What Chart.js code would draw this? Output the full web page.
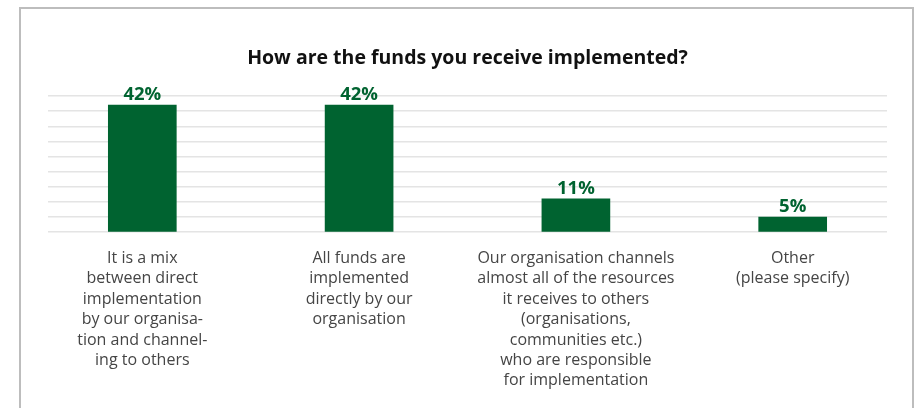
<!DOCTYPE html>
<html>
<head>
<meta charset="utf-8">
<script src="https://cdn.jsdelivr.net/npm/chart.js@4.4.1/dist/chart.umd.min.js"></script>
<style>
  html, body { margin: 0; padding: 0; background: #fff; }
  #wrap { position: relative; width: 917px; height: 408px; overflow: hidden; }
  #box { position: absolute; left: 19px; top: 7px; width: 895px; height: 420px;
         border: 2px solid #bdbdbd; border-bottom: none; box-sizing: border-box; }
  canvas { position: absolute; left: 0; top: 0; }
</style>
</head>
<body>
<div id="wrap">
  <div id="box"></div>
  <canvas id="c" width="917" height="408"></canvas>
</div>
<script>
const titleText = "How are the funds you receive implemented?";
const categories = [
  ["It is a mix", "between direct", "implementation", "by our organisa-", "tion and channel-", "ing to others"],
  ["All funds are", "implemented", "directly by our", "organisation"],
  ["Our organisation channels", "almost all of the resources", "it receives to others", "(organisations,", "communities etc.)", "who are responsible", "for implementation"],
  ["Other", "(please specify)"]
];
const values = [42, 42, 11, 5];
const yTicks = [0, 5, 10, 15, 20, 25, 30, 35, 40, 45];

const GREEN = "#006330";
const FONT = "'Open Sans', 'Noto Sans', sans-serif";

const valueLabels = {
  id: "valueLabels",
  afterDatasetsDraw(chart) {
    const ctx = chart.ctx;
    const meta = chart.getDatasetMeta(0);
    ctx.save();
    ctx.fillStyle = GREEN;
    ctx.font = "bold 18.5px " + FONT;
    ctx.textAlign = "center";
    ctx.textBaseline = "alphabetic";
    meta.data.forEach((bar, i) => {
      ctx.fillText(values[i] + "%", bar.x, bar.y - 5);
    });
    ctx.restore();
  }
};

new Chart(document.getElementById("c"), {
  type: "bar",
  data: {
    datasets: [{
      data: values.map((v, i) => ({ x: i, y: v })),
      backgroundColor: GREEN,
      borderWidth: 0,
      barThickness: 68
    }]
  },
  options: {
    responsive: false,
    animation: false,
    layout: { padding: { left: 48, right: 30, top: 0, bottom: 1 } },
    plugins: {
      legend: { display: false },
      tooltip: { enabled: false },
      title: {
        display: true,
        text: titleText,
        color: "#111",
        font: { family: FONT, size: 19.5, weight: "bold", lineHeight: 1.2 },
        padding: { top: 46.3, bottom: 26.3 }
      }
    },
    scales: {
      x: {
        type: "linear",
        min: -0.435,
        max: 3.435,
        offset: false,
        afterBuildTicks(scale) { scale.ticks = categories.map((_, i) => ({ value: i })); },
        grid: { display: false, drawTicks: false },
        border: { display: false },
        ticks: {
          autoSkip: false,
          maxRotation: 0,
          minRotation: 0,
          padding: 16,
          color: "#454545",
          font: { family: FONT, size: 16, lineHeight: 1.275 },
          callback: (v) => categories[v] || ""
        }
      },
      y: {
        min: 0,
        max: 45,
        afterBuildTicks(scale) { scale.ticks = yTicks.map(v => ({ value: v })); },
        grid: { color: "#e4e4e4", lineWidth: 1.5, drawTicks: false },
        border: { display: false },
        ticks: { display: false }
      }
    }
  },
  plugins: [valueLabels]
});
</script>
</body>
</html>
